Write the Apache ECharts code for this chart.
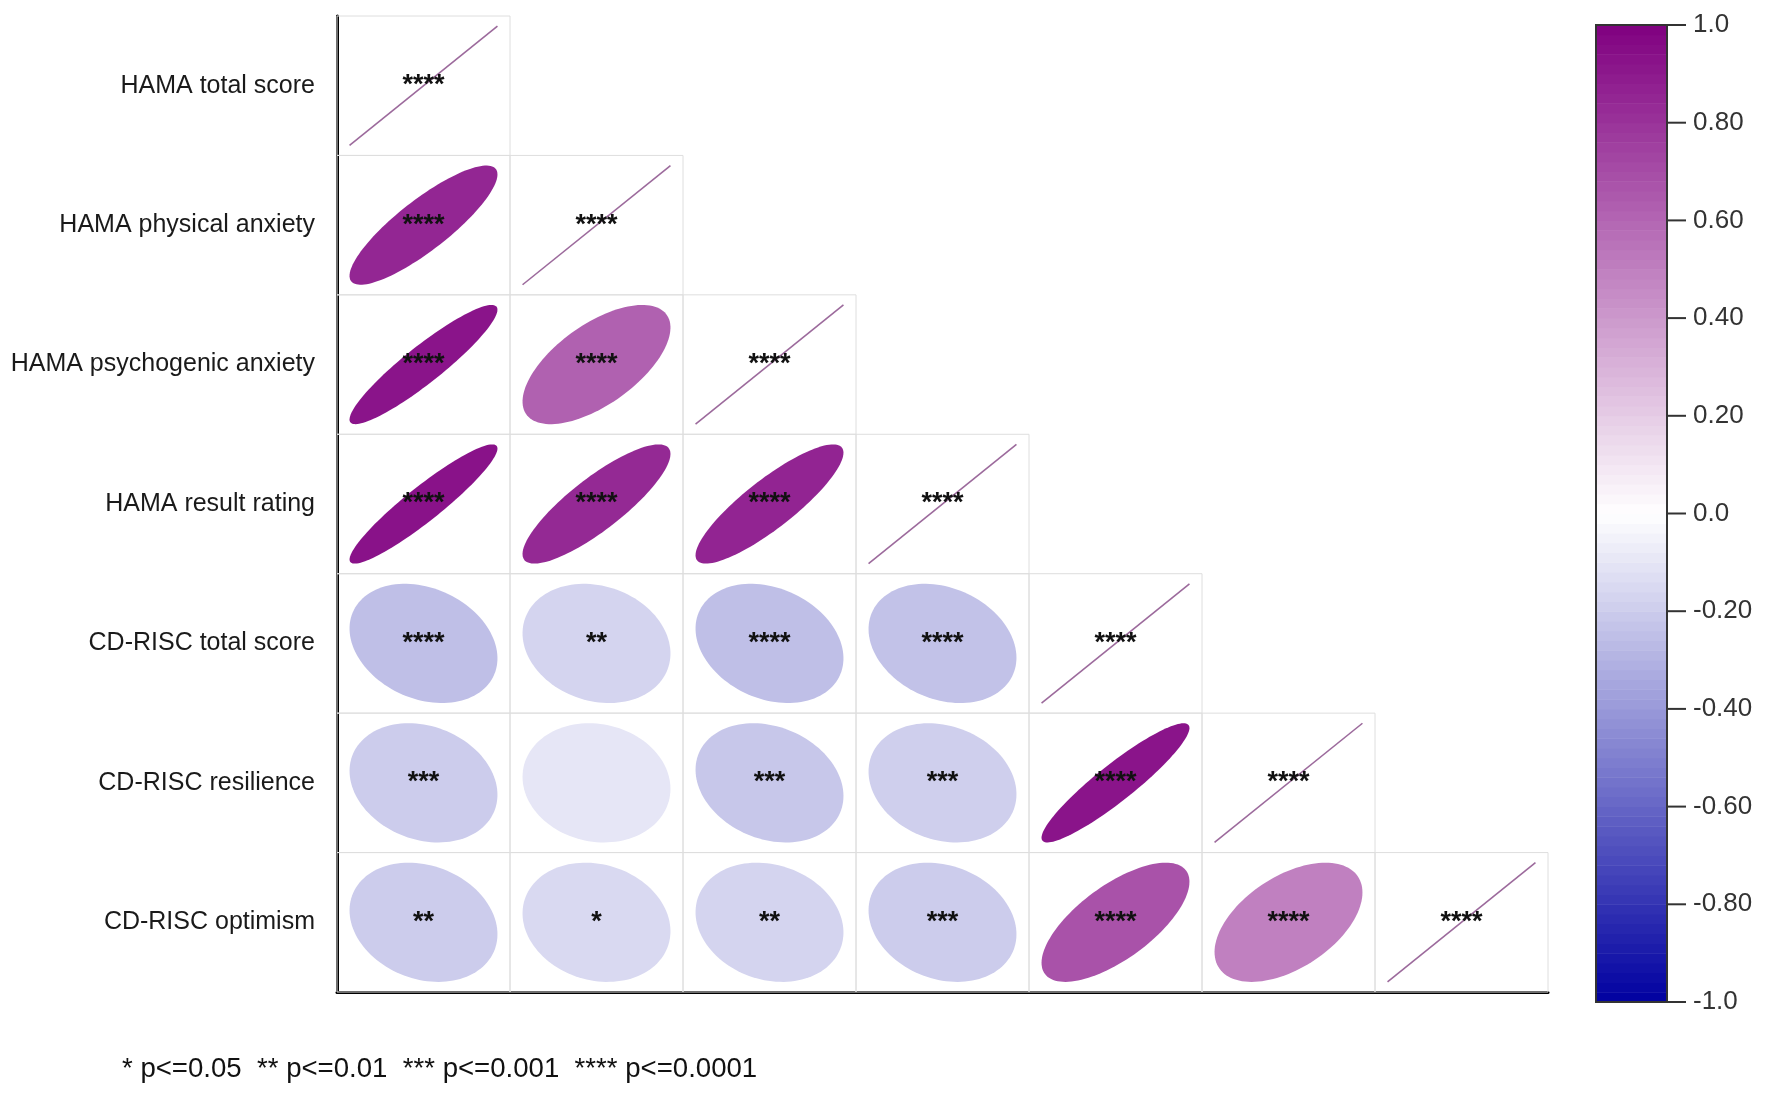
<!DOCTYPE html>
<html>
<head>
<meta charset="utf-8">
<script src="https://cdn.jsdelivr.net/npm/echarts@6/dist/echarts.min.js"></script>
<style>
  html, body { margin: 0; padding: 0; background: #fff; }
  #main { width: 1772px; height: 1097px; }
</style>
</head>
<body>
<div id="main"></div>
<script>
// variables (rows top to bottom, columns left to right)
var vars = [
    'HAMA total score',
    'HAMA physical anxiety',
    'HAMA psychogenic anxiety',
    'HAMA result rating',
    'CD-RISC total score',
    'CD-RISC resilience',
    'CD-RISC optimism'
];

var corr = [
    [1],
    [0.85, 1],
    [0.92, 0.62, 1],
    [0.93, 0.84, 0.86, 1],
    [-0.25, -0.17, -0.25, -0.24, 1],
    [-0.20, -0.10, -0.22, -0.19, 0.92, 1],
    [-0.20, -0.15, -0.17, -0.20, 0.68, 0.50, 1]
];

// significance marks
var stars = [
    ['****'],
    ['****', '****'],
    ['****', '****', '****'],
    ['****', '****', '****', '****'],
    ['****', '**', '****', '****', '****'],
    ['***', '', '***', '***', '****', '****'],
    ['**', '*', '**', '***', '****', '****', '****']
];

// colour bar ticks and their labels
var barTicks = [-1, -0.8, -0.6, -0.4, -0.2, 0, 0.2, 0.4, 0.6, 0.8, 1];
var barLabels = ['-1.0', '-0.80', '-0.60', '-0.40', '-0.20', '0.0', '0.20', '0.40', '0.60', '0.80', '1.0'];

var legendText = '* p<=0.05  ** p<=0.01  *** p<=0.001  **** p<=0.0001';

var NEG = [0, 0, 160];    // -1
var POS = [128, 0, 128];  // +1

function corrColor(r) {
    var end = r < 0 ? NEG : POS;
    var t = Math.min(1, Math.abs(r));
    var c = [0, 1, 2].map(function (k) {
        return Math.round(255 * (1 - t) + end[k] * t);
    });
    return 'rgb(' + c.join(',') + ')';
}

var cells = [];
for (var i = 0; i < corr.length; i++) {
    for (var j = 0; j < corr[i].length; j++) {
        cells.push([j, i, corr[i][j], stars[i][j]]);
    }
}

// colour bar bands
var bands = [];
for (var b = 0; b < 100; b++) {
    var lo = -1 + b * 0.02;
    bands.push([lo, lo + 0.02]);
}

var myChart = echarts.init(document.getElementById('main'));
var FONT = '"Liberation Sans", Arial, sans-serif';

option = {
    backgroundColor: '#fff',
    animation: false,
    textStyle: { fontFamily: FONT },
    grid: [
        { left: 337, top: 16, width: 1211, height: 976 },
        { left: 1596, top: 25, width: 71, height: 977 }
    ],
    xAxis: [
        {
            gridIndex: 0,
            type: 'category',
            data: vars,
            axisLine: { show: true, lineStyle: { color: '#000', width: 3 } },
            axisTick: { show: false },
            axisLabel: { show: false },
            splitLine: { show: false }
        },
        {
            gridIndex: 1,
            type: 'value',
            min: 0,
            max: 1,
            show: false
        }
    ],
    yAxis: [
        {
            gridIndex: 0,
            type: 'category',
            inverse: true,
            data: vars,
            axisLine: { show: true, lineStyle: { color: '#000', width: 3 } },
            axisTick: { show: false },
            axisLabel: { fontSize: 25, color: '#1a1a1a', margin: 22, fontFamily: FONT },
            splitLine: { show: false }
        },
        {
            gridIndex: 1,
            type: 'value',
            position: 'right',
            min: -1,
            max: 1,
            interval: 0.2,
            axisLine: { show: false },
            axisTick: { show: false },
            axisLabel: {
                fontSize: 26,
                color: '#333',
                margin: 26,
                fontFamily: FONT,
                formatter: function (v) {
                    var k = Math.round((v + 1) / 0.2);
                    return barLabels[k];
                }
            },
            splitLine: { show: false }
        }
    ],
    graphic: [
        {
            type: 'text',
            left: 122,
            top: 1055,
            style: {
                text: legendText,
                fontSize: 27.6,
                fontFamily: FONT,
                fill: '#111'
            }
        }
    ],
    series: [
        {
            type: 'custom',
            xAxisIndex: 0,
            yAxisIndex: 0,
            data: cells,
            renderItem: function (params, api) {
                var c = api.coord([api.value(0), api.value(1)]);
                var s = api.size([1, 1]);
                var w = s[0], h = s[1];
                var r = api.value(2);
                var mark = cells[params.dataIndex][3];
                var children = [{
                    type: 'rect',
                    shape: { x: c[0] - w / 2, y: c[1] - h / 2, width: w, height: h },
                    style: { fill: 'none', stroke: '#dedede', lineWidth: 1 }
                }];
                var sx = w * 0.855, sy = h * 0.855;
                if (r >= 0.999) {
                    children.push({
                        type: 'line',
                        shape: { x1: c[0] - sx / 2, y1: c[1] + sy / 2, x2: c[0] + sx / 2, y2: c[1] - sy / 2 },
                        style: { stroke: '#9c6a9c', lineWidth: 1.6 }
                    });
                } else {
                    var d = Math.acos(r) / 2;
                    var pts = [];
                    for (var k = 0; k < 120; k++) {
                        var t = k / 120 * Math.PI * 2;
                        pts.push([c[0] + Math.cos(t + d) / 2 * sx, c[1] - Math.cos(t - d) / 2 * sy]);
                    }
                    children.push({
                        type: 'polygon',
                        shape: { points: pts },
                        style: { fill: corrColor(r), stroke: null }
                    });
                }
                if (mark) {
                    children.push({
                        type: 'text',
                        style: {
                            text: mark,
                            x: c[0],
                            y: c[1],
                            align: 'center',
                            verticalAlign: 'middle',
                            fontSize: 27,
                            fontWeight: 'bold',
                            fontFamily: FONT,
                            fill: '#111'
                        }
                    });
                }
                return { type: 'group', children: children };
            }
        },
        {
            type: 'custom',
            xAxisIndex: 1,
            yAxisIndex: 1,
            data: bands,
            renderItem: function (params, api) {
                var lo = api.value(0), hi = api.value(1);
                var p0 = api.coord([0, lo]);
                var p1 = api.coord([1, hi]);
                return {
                    type: 'rect',
                    shape: { x: p0[0], y: p1[1], width: p1[0] - p0[0], height: p0[1] - p1[1] + 0.5 },
                    style: { fill: corrColor((lo + hi) / 2) }
                };
            }
        },
        {
            // colour bar outline
            type: 'custom',
            xAxisIndex: 1,
            yAxisIndex: 1,
            data: [[-1, 1]],
            z: 3,
            renderItem: function (params, api) {
                var p0 = api.coord([0, api.value(0)]);
                var p1 = api.coord([1, api.value(1)]);
                return {
                    type: 'rect',
                    shape: { x: p0[0], y: p1[1], width: p1[0] - p0[0], height: p0[1] - p1[1] },
                    style: { fill: 'none', stroke: '#333', lineWidth: 2 }
                };
            }
        },
        {
            // colour bar tick marks
            type: 'custom',
            xAxisIndex: 1,
            yAxisIndex: 1,
            data: barTicks.map(function (v) { return [1, v]; }),
            z: 3,
            renderItem: function (params, api) {
                var p = api.coord([api.value(0), api.value(1)]);
                return {
                    type: 'line',
                    shape: { x1: p[0], y1: p[1], x2: p[0] + 19, y2: p[1] },
                    style: { stroke: '#333', lineWidth: 2 }
                };
            }
        }
    ]
};
myChart.setOption(option);
</script>
</body>
</html>
